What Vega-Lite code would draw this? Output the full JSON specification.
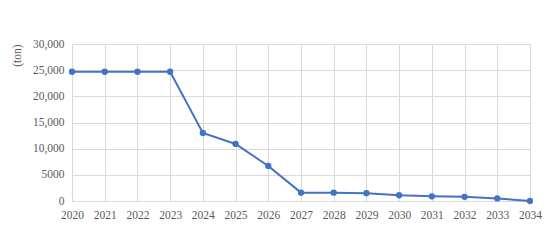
{
  "$schema": "https://vega.github.io/schema/vega-lite/v6.json",
  "autosize": {"type": "none"},
  "width": 458,
  "height": 157,
  "padding": {"left": 72, "top": 44, "right": 20, "bottom": 41},
  "background": "white",
  "config": {
    "view": {"stroke": null},
    "font": "Liberation Serif, DejaVu Serif, serif",
    "axis": {
      "labelFont": "Liberation Serif, DejaVu Serif, serif",
      "titleFont": "Liberation Serif, DejaVu Serif, serif",
      "labelColor": "#595959",
      "titleColor": "#595959",
      "labelFontSize": 11.5,
      "titleFontSize": 11.5,
      "gridColor": "#d9d9d9",
      "gridWidth": 1,
      "ticks": false
    }
  },
  "data": {
    "values": [
      {"year": 2020, "ton": 24700},
      {"year": 2021, "ton": 24700},
      {"year": 2022, "ton": 24700},
      {"year": 2023, "ton": 24700},
      {"year": 2024, "ton": 13000},
      {"year": 2025, "ton": 10900},
      {"year": 2026, "ton": 6700},
      {"year": 2027, "ton": 1600},
      {"year": 2028, "ton": 1600},
      {"year": 2029, "ton": 1500},
      {"year": 2030, "ton": 1100},
      {"year": 2031, "ton": 900},
      {"year": 2032, "ton": 800},
      {"year": 2033, "ton": 500},
      {"year": 2034, "ton": 0}
    ]
  },
  "mark": {"type": "line", "color": "#4472C4", "strokeWidth": 2, "point": {"filled": true, "size": 40, "color": "#4472C4"}},
  "encoding": {
    "x": {
      "field": "year", "type": "quantitative",
      "scale": {"domain": [2020, 2034], "nice": false, "zero": false},
      "axis": {
        "title": null,
        "values": [2020,2021,2022,2023,2024,2025,2026,2027,2028,2029,2030,2031,2032,2033,2034],
        "format": "d",
        "labelPadding": 8,
        "domainColor": "#d9d9d9",
        "labelFlush": false
      }
    },
    "y": {
      "field": "ton", "type": "quantitative",
      "scale": {"domain": [0, 30000], "nice": false},
      "axis": {
        "title": "(ton)",
        "values": [0, 5000, 10000, 15000, 20000, 25000, 30000],
        "labelExpr": "datum.value >= 10000 ? format(datum.value, ',') : format(datum.value, 'd')",
        "domain": false,
        "labelPadding": 8,
        "titleAnchor": "end",
        "titlePadding": 10,
        "titleFontWeight": "normal"
      }
    }
  }
}
